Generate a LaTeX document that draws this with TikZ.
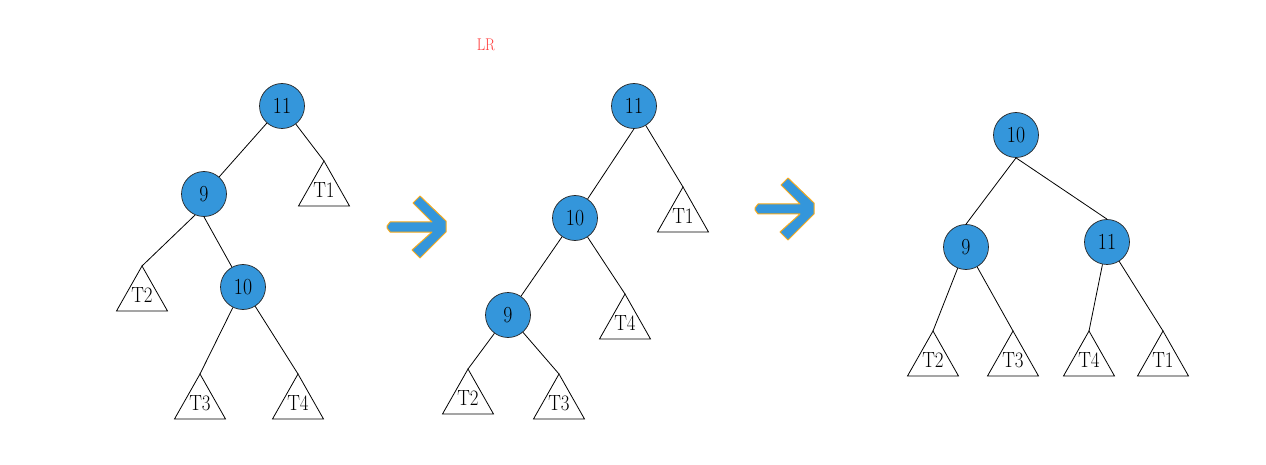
\documentclass[tikz,border=0pt]{standalone}
\usetikzlibrary{calc}
\definecolor{nodeblue}{RGB}{52,150,219}
\definecolor{arroworange}{RGB}{245,170,30}
\definecolor{labelred}{RGB}{255,60,60}
% slightly condensed text, as in the node labels
\newcommand\narrowtext[1]{\scalebox{0.86}[1]{#1}}
\tikzset{
  tnode/.style={circle, draw=black!85, fill=nodeblue, line width=0.7pt,
    minimum size=45pt, inner sep=0pt, font=\fontsize{23}{26}\selectfont},
  edge/.style={draw=black, line width=0.8pt},
  tri/.style={draw=black, line width=0.8pt, line join=miter},
  tlabel/.style={inner sep=0pt, font=\fontsize{22}{25}\selectfont},
  bigarrow/.style={fill=nodeblue, draw=arroworange, line width=1pt, line join=round},
}
% subtree triangle: name, apex x, apex y, label
\newcommand\subtree[4]{%
  \coordinate (#1) at (#2,#3);
  \draw[tri] (#1) -- ++(25.5,45) -- ++(-51,0) -- cycle;
  \node[tlabel] (#1-l) at ($(#1)+(0,29)$) {\narrowtext{#4}};
}
% block arrow between stages
\newcommand\stagearrow[2]{%
  \filldraw[bigarrow, shift={(#1,#2)}]
    (387,226) -- (390,222) -- (432,222) -- (413,203) -- (420,196)
    -- (446,221) -- (446,232) -- (420,258) -- (412,250) -- (432,232)
    -- (390,232) -- (387,228) -- cycle;
}
\begin{document}
\begin{tikzpicture}[x=1pt, y=-1pt]
\useasboundingbox (0,0) rectangle (1266,465);

\node[text=labelred, font=\fontsize{17}{20}\selectfont] (lr) at (486,45) {\narrowtext{LR}};

% unbalanced tree
\node[tnode] (a11) at (282,106) {\narrowtext{11}};
\node[tnode] (a9)  at (204,194) {\narrowtext{9}};
\node[tnode] (a10) at (243,287) {\narrowtext{10}};
\subtree{aT1}{324}{161}{T1}
\subtree{aT2}{142}{266}{T2}
\subtree{aT3}{200}{374}{T3}
\subtree{aT4}{298}{374}{T4}
\draw[edge] (a11) -- (a9);
\draw[edge] (a11) -- (aT1);
\draw[edge] (a9.-113) -- (aT2);
\draw[edge] (a9.south) -- (a10);
\draw[edge] (a10) -- (aT3);
\draw[edge] (a10) -- (aT4);

\stagearrow{0}{0}

% after left rotation of 9
\node[tnode] (b11) at (634,106) {\narrowtext{11}};
\node[tnode] (b10) at (575,218) {\narrowtext{10}};
\node[tnode] (b9)  at (508,315) {\narrowtext{9}};
\subtree{bT1}{683}{187}{T1}
\subtree{bT4}{625}{294}{T4}
\subtree{bT2}{468}{369}{T2}
\subtree{bT3}{559}{374}{T3}
\draw[edge] (b11.south) -- (b10);
\draw[edge] (b11) -- (bT1);
\draw[edge] (b10) -- (b9);
\draw[edge] (b10) -- (bT4);
\draw[edge] (b9) -- (bT2);
\draw[edge] (b9) -- (bT3);

\stagearrow{368}{-18}

% balanced result
\node[tnode] (c10) at (1016,135) {\narrowtext{10}};
\node[tnode] (c9)  at (966,247) {\narrowtext{9}};
\node[tnode] (c11) at (1107,242) {\narrowtext{11}};
\subtree{cT2}{933}{331}{T2}
\subtree{cT3}{1013}{331}{T3}
\subtree{cT4}{1089}{331}{T4}
\subtree{cT1}{1163}{331}{T1}
\draw[edge] (c10.south) -- (c9.north);
\draw[edge] (c10.south) -- (c11.north);
\draw[edge] (c9) -- (cT2);
\draw[edge] (c9) -- (cT3);
\draw[edge] (c11) -- (cT4);
\draw[edge] (c11) -- (cT1);
\end{tikzpicture}
\end{document}
